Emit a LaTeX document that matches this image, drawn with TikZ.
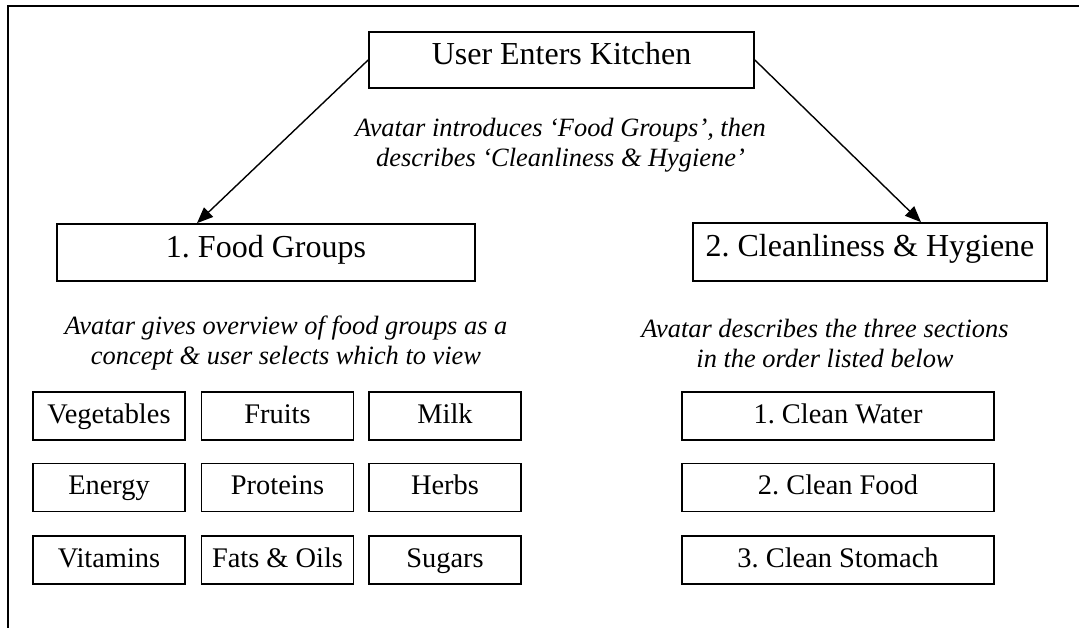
\documentclass[tikz,border=0pt]{standalone}
\usepackage{fontspec}
\setmainfont{Liberation Serif}
\usepackage{tikz}
\usetikzlibrary{positioning,arrows.meta}
\frenchspacing

\begin{document}
\begin{tikzpicture}[x=1pt, y=-1pt,
  big/.style={draw, line width=1.7pt, inner sep=0pt, text height=24pt, text depth=14pt, font=\fontsize{32}{38}\selectfont},
  item/.style={draw, line width=1.7pt, inner sep=0pt, minimum height=48pt, text height=20pt, text depth=6pt, font=\fontsize{28.4}{34}\selectfont},
  note/.style={align=center, inner sep=0pt, font=\fontsize{26.4}{30}\selectfont\itshape},
  link/.style={line width=1.4pt, -{Triangle[length=16pt,width=13pt]}}]
\useasboundingbox (0,0) rectangle (1079,628);
% frame
\draw[line width=2pt] (8,628) -- (8,6.5) -- (1079,6.5);
% top
\node[big, minimum width=385, minimum height=56] (enter) at (561.5,60) {User Enters Kitchen};
\node[note] (intro) at (560.5,145) {Avatar introduces ‘Food Groups’, then\\describes ‘Cleanliness \& Hygiene’};
\node[big, minimum width=418, minimum height=57] (food) at (266,252.5) {1. Food Groups};
\node[big, minimum width=354, minimum height=58] (clean) at (870,252) {2. Cleanliness \& Hygiene};
\draw[link] (enter.west) -- ([xshift=-69]food.north);
\draw[link] (enter.east) -- ([xshift=51]clean.north);
% food groups
\node[note] (foodnote) at (286,343) {Avatar gives overview of food groups as a\\concept \& user selects which to view};
\foreach \lab/\x/\y/\n in {Vegetables/109/416/veg, Fruits/277.5/416/fruit, Milk/445/416/milk,
    Energy/109/487.5/energy, Proteins/277.5/487.5/prot, Herbs/445/487.5/herbs,
    Vitamins/109/560/vit, Fats \& Oils/277.5/560/fats, Sugars/445/560/sugar} {
  \node[item, minimum width=152] (\n) at (\x,\y) {\lab};
}
% cleanliness
\node[note] (cleannote) at (825,343) {Avatar describes the three sections\\in the order listed below};
\foreach \lab/\y/\n in {1. Clean Water/416/water, 2. Clean Food/487.5/cfood, 3. Clean Stomach/560/stomach} {
  \node[item, minimum width=312] (\n) at (838,\y) {\lab};
}
\end{tikzpicture}
\end{document}
